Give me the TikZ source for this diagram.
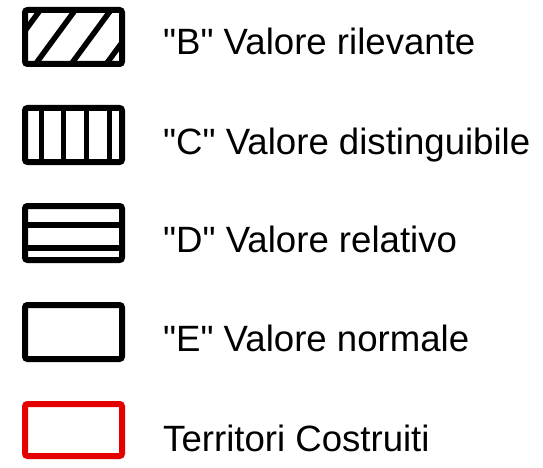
\documentclass[tikz,border=0pt]{standalone}
\usepackage{fontspec}
\setmainfont{Liberation Sans}
\begin{document}
\begin{tikzpicture}[x=1pt,y=-1pt,
  legbox/.style={draw=black,line width=6pt,rounded corners=2.5pt},
  bar/.style={line width=5pt,draw=black},
  lab/.style={anchor=base west,inner sep=0pt,font=\fontsize{36.6}{42}\selectfont}]
\useasboundingbox (0,0) rectangle (543,468);
% B
\begin{scope}
  \clip (25,10) rectangle (122,64);
  \foreach \xt in {38,73,108.7,143.7}
    \draw[bar,line width=5.5pt] (\xt+14.7,-7) -- (\xt-51.4,83);
\end{scope}
\draw[legbox] (25,10) rectangle (122,64);
\node[lab] (tb) at (163,55) {\textquotedbl B\textquotedbl{} Valore rilevante};
% C
\foreach \xv in {41.7,63.7,86.7,109.3}
  \draw[bar] (\xv,108) -- (\xv,162);
\draw[legbox] (25,108) rectangle (122,162);
\node[lab] (tc) at (163,154) {\textquotedbl C\textquotedbl{} Valore distinguibile};
% D
\foreach \yv in {225.3,248.3}
  \draw[bar,line width=6pt] (25,\yv) -- (122,\yv);
\draw[legbox] (25,206) rectangle (122,260);
\node[lab] (td) at (163,252) {\textquotedbl D\textquotedbl{} Valore relativo};
% E
\draw[legbox] (25,305) rectangle (122,359);
\node[lab] (te) at (163,351) {\textquotedbl E\textquotedbl{} Valore normale};
% Territori
\draw[legbox,draw=red!90!black] (25,404) rectangle (122,456);
\node[lab] (tt) at (163,451) {Territori Costruiti};
\end{tikzpicture}
\end{document}
